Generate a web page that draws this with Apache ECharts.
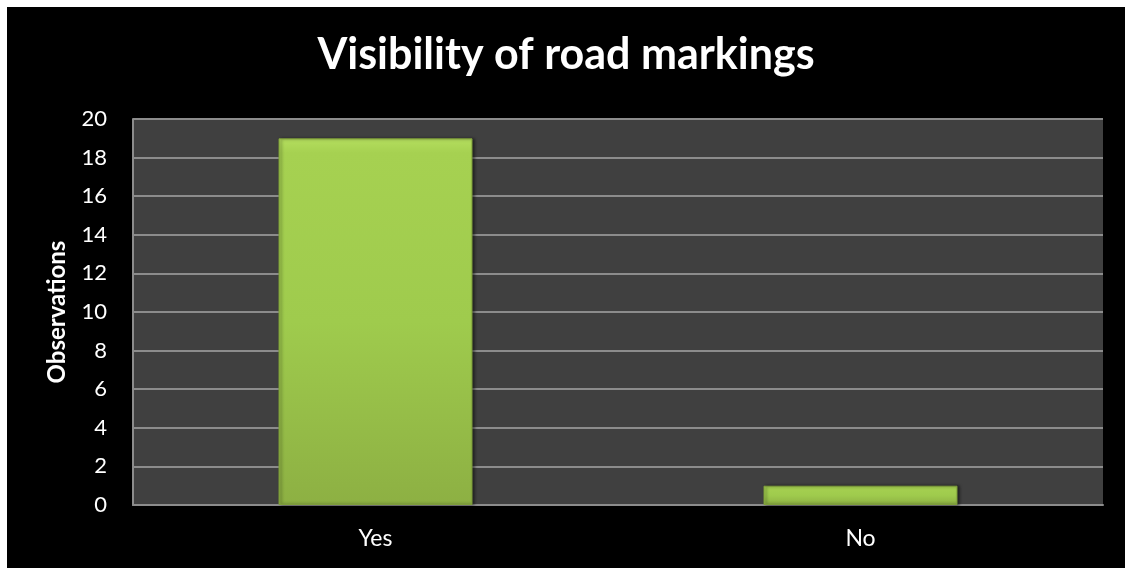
<!DOCTYPE html>
<html>
<head>
<meta charset="utf-8">
<script src="https://cdn.jsdelivr.net/npm/echarts@6/dist/echarts.min.js"></script>
<style>
  html, body { margin: 0; padding: 0; background: #ffffff; width: 1125px; height: 568px; overflow: hidden; }
  #chart { position: absolute; left: 7px; top: 7px; width: 1118px; height: 561px; background: #000000; }
</style>
</head>
<body>
<div id="chart"></div>
<script>
// Survey results: were road markings visible?
const categories = ['Yes', 'No'];
const observations = [19, 1];
const yMin = 0, yMax = 20, yStep = 2;

const chart = echarts.init(document.getElementById('chart'));

const barGradient = new echarts.graphic.LinearGradient(0, 0, 0, 1, [
  { offset: 0, color: '#b4de5e' },
  { offset: 0.04, color: '#a6d151' },
  { offset: 0.5, color: '#9fcb4d' },
  { offset: 1, color: '#8db043' }
]);

chart.setOption({
  backgroundColor: '#000000',
  animation: false,
  title: {
    text: 'Visibility of road markings',
    left: 'center',
    top: 22,
    textStyle: { color: '#ffffff', fontFamily: 'Lato', fontWeight: 'bold', fontSize: 43 }
  },
  grid: {
    left: 126, top: 112, right: 22, bottom: 63,
    show: true, backgroundColor: '#404040', borderWidth: 0
  },
  xAxis: {
    type: 'category',
    data: categories,
    axisLine: { show: true, lineStyle: { color: '#8c8c8c', width: 2 } },
    axisTick: { show: false },
    axisLabel: { color: '#ffffff', fontFamily: 'Lato', fontSize: 23, margin: 22 }
  },
  yAxis: {
    type: 'value',
    min: yMin, max: yMax, interval: yStep,
    name: 'Observations',
    nameLocation: 'middle',
    nameGap: 64,
    nameRotate: 90,
    nameTextStyle: { color: '#ffffff', fontFamily: 'Lato', fontWeight: 'bold', fontSize: 24 },
    axisLine: { show: true, lineStyle: { color: '#8c8c8c', width: 2 } },
    axisTick: { show: false },
    splitLine: { show: true, lineStyle: { color: '#8c8c8c', width: 2 } },
    axisLabel: { color: '#ffffff', fontFamily: 'Lato', fontSize: 22, margin: 26 }
  },
  series: [{
    type: 'bar',
    data: observations,
    barWidth: '40%',
    itemStyle: {
      color: barGradient,
      borderColor: '#7f9f3a',
      borderWidth: 1,
      shadowColor: 'rgba(0,0,0,0.5)',
      shadowBlur: 3,
      shadowOffsetX: 2,
      shadowOffsetY: 0
    }
  }]
});
</script>
</body>
</html>
